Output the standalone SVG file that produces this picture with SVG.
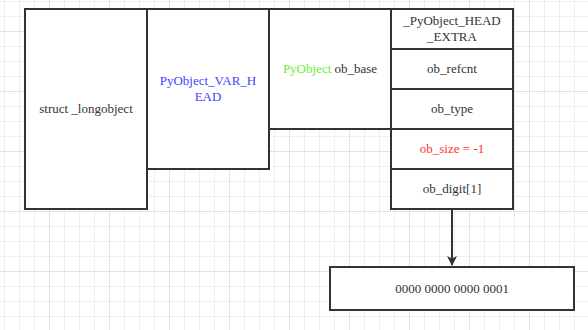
<svg xmlns="http://www.w3.org/2000/svg" width="588" height="330" viewBox="0 0 588 330">
  <defs>
    <pattern id="minor" x="4" y="1" width="15" height="15" patternUnits="userSpaceOnUse">
      <rect x="0" y="0" width="15" height="1" fill="#eeeeee"/>
      <rect x="0" y="0" width="1" height="15" fill="#eeeeee"/>
    </pattern>
    <pattern id="major" x="49" y="31" width="60" height="60" patternUnits="userSpaceOnUse">
      <rect x="0" y="0" width="60" height="1" fill="#e2e2e2"/>
      <rect x="0" y="0" width="1" height="60" fill="#e2e2e2"/>
    </pattern>
    <marker id="arrow" viewBox="0 0 10 10" refX="9" refY="5" markerWidth="10" markerHeight="12" markerUnits="userSpaceOnUse" orient="auto">
      <path d="M0 0L10 5L0 10L2.5 5Z" fill="#333"/>
    </marker>
  </defs>
  <style>
    .box { fill: #fff; stroke: #333; stroke-width: 2; }
    .t { font-family: "Liberation Serif", "Times New Roman", serif; font-size: 13px; fill: #333; text-anchor: middle; }
    .blue { fill: #3f3fff; }
    .green { fill: #66ee33; }
    .red { fill: #ff3333; }
    .edge { fill: none; stroke: #333; stroke-width: 2; }
  </style>

  <!-- background grid -->
  <rect width="588" height="330" fill="#fff"/>
  <rect width="588" height="330" fill="url(#minor)"/>
  <rect width="588" height="330" fill="url(#major)"/>

  <g id="longobject">
    <rect class="box" x="25" y="9" width="122" height="200"/>
    <text class="t" x="86" y="113">struct _longobject</text>
  </g>

  <g id="var-head">
    <rect class="box" x="147" y="9" width="122" height="160"/>
    <text class="t blue" x="208" y="85">PyObject_VAR_H</text>
    <text class="t blue" x="208" y="101">EAD</text>
  </g>

  <g id="ob-base">
    <rect class="box" x="269" y="9" width="122" height="120"/>
    <text class="t" x="330" y="73"><tspan class="green">PyObject</tspan> ob_base</text>
  </g>

  <g id="head-extra">
    <rect class="box" x="391" y="9" width="122" height="40"/>
    <text class="t" x="452" y="25">_PyObject_HEAD</text>
    <text class="t" x="452" y="41">_EXTRA</text>
  </g>

  <g id="ob-refcnt">
    <rect class="box" x="391" y="49" width="122" height="40"/>
    <text class="t" x="452" y="73">ob_refcnt</text>
  </g>

  <g id="ob-type">
    <rect class="box" x="391" y="89" width="122" height="40"/>
    <text class="t" x="452" y="113">ob_type</text>
  </g>

  <g id="ob-size">
    <rect class="box" x="391" y="129" width="122" height="40"/>
    <text class="t red" x="452" y="153">ob_size = -1</text>
  </g>

  <g id="ob-digit">
    <rect class="box" x="391" y="169" width="122" height="40"/>
    <text class="t" x="452" y="193">ob_digit[1]</text>
  </g>

  <g id="digit-value">
    <rect class="box" x="330" y="267" width="244" height="43"/>
    <text class="t" x="452" y="293">0000 0000 0000 0001</text>
  </g>

  <g id="connectors">
    <path class="edge" d="M452 210V265" marker-end="url(#arrow)"/>
  </g>
</svg>
